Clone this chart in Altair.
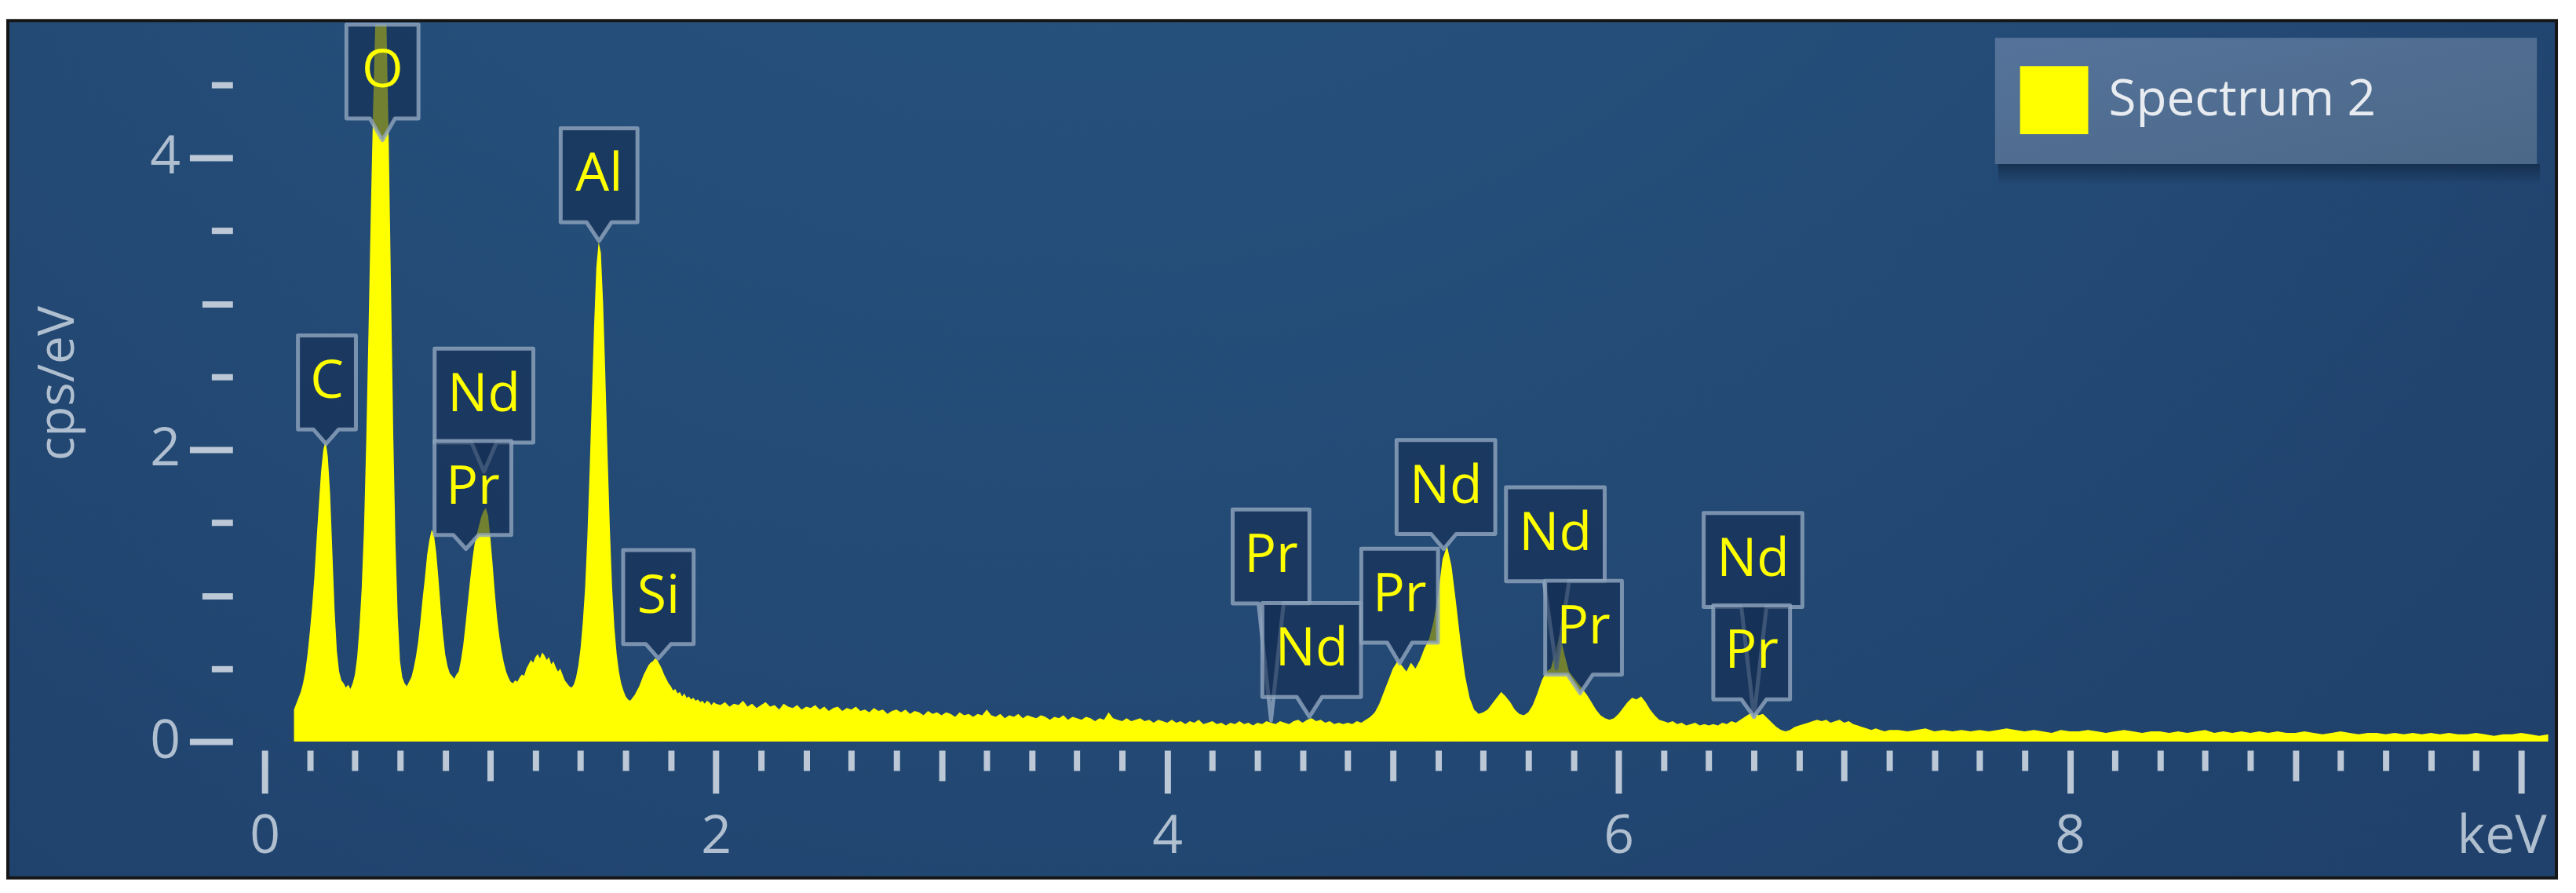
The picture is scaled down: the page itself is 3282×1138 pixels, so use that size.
import altair as alt
import pandas as pd

# ---------------- data ----------------
SERIES_NAME = "Spectrum 2"

# spectrum segments: first channel (keV), channel width (keV), cps/eV values
SEG_A_START, SEG_A_STEP = 0.13, 0.01
SEG_A = [
    0.22, 0.26, 0.30, 0.34, 0.40, 0.48, 0.60, 0.75, 0.92, 1.12,
    1.38, 1.62, 1.85, 2.00, 2.06, 1.95, 1.70, 1.30, 0.90, 0.62,
    0.48, 0.42, 0.40, 0.37, 0.39, 0.36, 0.40, 0.46, 0.58, 0.78,
    1.05, 1.45, 2.05, 2.80, 3.60, 4.30, 4.90, 5.30, 5.50, 5.60,
    5.40, 4.90, 4.10, 3.10, 2.10, 1.35, 0.85, 0.55, 0.44, 0.40,
    0.38, 0.41, 0.44, 0.50, 0.58, 0.68, 0.82, 0.98, 1.12, 1.28,
    1.38, 1.45, 1.42, 1.30, 1.12, 0.92, 0.74, 0.60, 0.52, 0.47,
    0.45, 0.43, 0.46, 0.48, 0.56, 0.66, 0.80, 0.95, 1.10, 1.24,
    1.35, 1.42, 1.48, 1.54, 1.58, 1.60, 1.55, 1.40, 1.22, 1.02,
    0.85, 0.72, 0.62, 0.54, 0.48, 0.44, 0.41, 0.40, 0.42, 0.41,
    0.44, 0.46, 0.45, 0.50, 0.53, 0.56, 0.54, 0.58, 0.60, 0.57,
    0.61, 0.59, 0.56, 0.58, 0.53, 0.55, 0.51, 0.48, 0.50, 0.46,
    0.42, 0.40, 0.38, 0.37, 0.39, 0.44, 0.52, 0.64, 0.82, 1.05,
    1.40, 1.85, 2.35, 2.85, 3.25, 3.42, 3.35, 3.00, 2.50, 1.95,
    1.45, 1.05, 0.78, 0.60, 0.48, 0.40, 0.35, 0.31, 0.29, 0.28,
    0.30, 0.32, 0.35, 0.38, 0.42, 0.46, 0.49, 0.52, 0.54, 0.55,
    0.57, 0.56, 0.53, 0.50, 0.46, 0.43, 0.40, 0.38, 0.35, 0.36,
    0.33, 0.34, 0.31, 0.33, 0.30, 0.31, 0.29, 0.30, 0.28, 0.29,
    0.27, 0.28, 0.26, 0.28, 0.27, 0.25, 0.27, 0.26,
]

SEG_B_START, SEG_B_STEP = 2.02, 0.02
SEG_B = [
    0.25, 0.27, 0.24, 0.26, 0.25, 0.28, 0.24, 0.26, 0.23, 0.25,
    0.27, 0.24, 0.25, 0.22, 0.26, 0.24, 0.23, 0.25, 0.22, 0.24,
    0.23, 0.25, 0.22, 0.24, 0.21, 0.23, 0.24, 0.21, 0.23, 0.22,
    0.24, 0.21, 0.22, 0.20, 0.23, 0.21, 0.22, 0.19, 0.21, 0.22,
    0.20, 0.22, 0.19, 0.21, 0.20, 0.18, 0.21, 0.19, 0.20, 0.18,
    0.20, 0.19, 0.17, 0.20, 0.18, 0.19, 0.17, 0.19, 0.18, 0.22,
    0.18, 0.17, 0.19, 0.16, 0.18, 0.17, 0.19, 0.16, 0.18, 0.17,
    0.16, 0.18, 0.17, 0.15, 0.17, 0.16, 0.18, 0.15, 0.17, 0.16,
    0.15, 0.17, 0.16, 0.14, 0.16, 0.15, 0.20, 0.16, 0.15, 0.14,
    0.16, 0.14, 0.15, 0.16, 0.14, 0.15, 0.13, 0.15, 0.14, 0.13,
    0.15, 0.13, 0.14, 0.12, 0.14, 0.13, 0.15, 0.12, 0.13, 0.14,
    0.12, 0.13, 0.11, 0.13, 0.12, 0.14, 0.12, 0.13, 0.11, 0.13,
    0.12, 0.14, 0.13, 0.12, 0.14, 0.13, 0.12, 0.14, 0.15, 0.13,
    0.15, 0.16, 0.14, 0.15, 0.13, 0.14, 0.12, 0.13, 0.12, 0.13,
    0.12, 0.14, 0.13, 0.15, 0.17, 0.20, 0.26, 0.34, 0.42, 0.50,
    0.55, 0.52, 0.48, 0.54, 0.50, 0.56, 0.64, 0.70, 0.82, 1.00,
    1.25, 1.34, 1.20, 0.95, 0.68, 0.45, 0.30, 0.22, 0.19, 0.20,
    0.22, 0.26, 0.30, 0.34, 0.31, 0.27, 0.22, 0.19, 0.18, 0.20,
    0.25, 0.33, 0.42, 0.48, 0.50, 0.62, 0.74, 0.60, 0.48, 0.44,
    0.40, 0.36, 0.32, 0.27, 0.22, 0.18, 0.16, 0.15, 0.16, 0.19,
    0.23, 0.27, 0.30, 0.29, 0.31, 0.27, 0.22, 0.18, 0.15, 0.14,
    0.13, 0.14, 0.12, 0.13, 0.11, 0.12, 0.13, 0.11, 0.12, 0.11,
    0.12, 0.11, 0.13, 0.12, 0.14, 0.13, 0.15, 0.17, 0.19, 0.20,
    0.18, 0.19, 0.16, 0.13, 0.10, 0.08, 0.07, 0.08, 0.10, 0.11,
    0.12, 0.13, 0.14, 0.15, 0.14, 0.15, 0.13, 0.14, 0.15, 0.13,
    0.14, 0.12, 0.11, 0.10, 0.09, 0.08, 0.09, 0.08, 0.07, 0.08,
]

SEG_C_START, SEG_C_STEP = 7.24, 0.04
SEG_C = [
    0.08, 0.07, 0.08, 0.09, 0.07, 0.08, 0.07, 0.08, 0.07, 0.08,
    0.07, 0.08, 0.09, 0.08, 0.07, 0.08, 0.07, 0.06, 0.08, 0.07,
    0.07, 0.08, 0.07, 0.06, 0.07, 0.08, 0.07, 0.06, 0.07, 0.07,
    0.06, 0.07, 0.06, 0.07, 0.08, 0.06, 0.07, 0.06, 0.07, 0.06,
    0.07, 0.06, 0.07, 0.06, 0.06, 0.07, 0.06, 0.05, 0.06, 0.07,
    0.06, 0.05, 0.06, 0.06, 0.05, 0.06, 0.05, 0.06, 0.05, 0.06,
    0.05, 0.06, 0.05, 0.05, 0.06, 0.05, 0.04, 0.05, 0.05, 0.06,
    0.05, 0.04, 0.05,
]

# element callouts: text, box centre (keV, cps/eV), pointer tip (keV, cps/eV)
LABEL_TEXT = ["C", "O", "Nd", "Pr", "Al", "Si", "Pr", "Nd", "Pr", "Nd", "Nd", "Pr", "Nd", "Pr"]
LABEL_KEV = [0.276, 0.522, 0.972, 0.923, 1.482, 1.745, 4.46, 4.64, 5.03, 5.235, 5.72, 5.845, 6.596, 6.59]
LABEL_LEVEL = [2.46, 4.59, 2.37, 1.737, 3.88, 0.99, 1.268, 0.627, 1.0, 1.744, 1.42, 0.78, 1.244, 0.611]
TIP_KEV = [0.272, 0.522, 0.972, 0.892, 1.482, 1.745, 4.46, 4.63, 5.03, 5.225, 5.725, 5.83, 6.60, 6.60]
TIP_LEVEL = [2.04, 4.12, 1.85, 1.32, 3.43, 0.57, 0.145, 0.17, 0.535, 1.32, 0.50, 0.33, 0.17, 0.17]

X_TICKS = [0.0, 0.2, 0.4, 0.6, 0.8, 1.0, 1.2, 1.4, 1.6, 1.8,
           2.0, 2.2, 2.4, 2.6, 2.8, 3.0, 3.2, 3.4, 3.6, 3.8,
           4.0, 4.2, 4.4, 4.6, 4.8, 5.0, 5.2, 5.4, 5.6, 5.8,
           6.0, 6.2, 6.4, 6.6, 6.8, 7.0, 7.2, 7.4, 7.6, 7.8,
           8.0, 8.2, 8.4, 8.6, 8.8, 9.0, 9.2, 9.4, 9.6, 9.8, 10.0]
Y_TICKS = [0.0, 0.5, 1.0, 1.5, 2.0, 2.5, 3.0, 3.5, 4.0, 4.5]
X_DOMAIN = [0, 10.146]
Y_DOMAIN = [0, 4.912]

# ---------------- layout / style ----------------
W, H = 2924, 916
PX_X = W / (X_DOMAIN[1] - X_DOMAIN[0])
PX_Y = H / (Y_DOMAIN[1] - Y_DOMAIN[0])
FONT = "Open Sans"
TICK_COLOR = "#bcc8d6"
LABEL_COLOR = "#b0bfd0"
BOX_W = {"C": 74, "O": 92, "Nd": 126, "Pr": 98, "Al": 98, "Si": 90}
BOX_H = 120
PTR_HALF = 16

rows = []
for start, step, vals in [(SEG_A_START, SEG_A_STEP, SEG_A),
                          (SEG_B_START, SEG_B_STEP, SEG_B),
                          (SEG_C_START, SEG_C_STEP, SEG_C)]:
    for i, v in enumerate(vals):
        rows.append({"keV": round(start + i * step, 4), "cps": v, "series": SERIES_NAME})
spec_df = pd.DataFrame(rows)

poly = []
for i, (t, bx, by, tx, ty) in enumerate(zip(LABEL_TEXT, LABEL_KEV, LABEL_LEVEL, TIP_KEV, TIP_LEVEL)):
    hw = BOX_W[t] / 2 / PX_X
    hh = BOX_H / 2 / PX_Y
    ph = PTR_HALF / PX_X
    top, bot = by + hh, by - hh
    for x, y2 in [(bx - hw, bot), (tx - ph, bot), (tx, ty), (tx + ph, bot), (bx + hw, bot)]:
        poly.append({"id": i, "keV": x, "cps": top, "cps2": y2})
poly_df = pd.DataFrame(poly)
text_df = pd.DataFrame({"keV": LABEL_KEV, "cps": LABEL_LEVEL, "label": LABEL_TEXT})

xs = alt.Scale(domain=X_DOMAIN, nice=False, zero=False)
ys = alt.Scale(domain=Y_DOMAIN, nice=False, zero=False)

even = "abs(datum.value/2 - round(datum.value/2)) < 0.01"
whole = "abs(datum.value - round(datum.value)) < 0.01"

x_axis = alt.Axis(
    values=X_TICKS, title=None, grid=False, domain=False, offset=11, zindex=1,
    tickSize={"expr": f"{even} ? 55 : ({whole} ? 39 : 26)"},
    tickColor=TICK_COLOR, tickWidth=8,
    labelExpr=f"datum.value > 9.9 ? 'keV' : ({even} ? format(datum.value, 'd') : '')",
    labelOffset={"condition": {"test": "datum.value > 9.9", "value": -25}, "value": 0},
    labelFont=FONT, labelFontSize=68, labelColor=LABEL_COLOR, labelPadding=22,
    labelFlush=False, labelOverlap=False, labelBound=False,
)
y_axis = alt.Axis(
    values=Y_TICKS, title="cps/eV", grid=False, domain=False, offset=41, zindex=1,
    tickSize={"expr": f"{even} ? 55 : ({whole} ? 39 : 27)"},
    tickColor=TICK_COLOR, tickWidth=8,
    labelExpr=f"{even} ? format(datum.value, 'd') : ''",
    labelFont=FONT, labelFontSize=68, labelColor=LABEL_COLOR, labelPadding=12,
    labelOverlap=False, labelBound=False,
    titleFont=FONT, titleFontSize=64, titleColor=LABEL_COLOR, titleFontWeight="normal",
    titlePadding=84,
)

one = pd.DataFrame({"k": [0]})

frame = alt.Chart(one).mark_rect(
    fill={"gradient": "radial", "x1": 0.42, "y1": 0.05, "r1": 0, "x2": 0.42, "y2": 0.05, "r2": 0.8,
          "stops": [{"offset": 0, "color": "#2a5986"}, {"offset": 1, "color": "#1f416b"}]},
    stroke="#161616", strokeWidth=4,
).encode(x=alt.value(-328), x2=alt.value(2927), y=alt.value(-5), y2=alt.value(1090))

legend_shadow = alt.Chart(one).mark_rect(
    fill={"gradient": "linear", "x1": 0, "y1": 0, "x2": 0, "y2": 1,
          "stops": [{"offset": 0, "color": "rgba(14,32,58,0.6)"},
                    {"offset": 1, "color": "rgba(14,32,58,0)"}]},
).encode(x=alt.value(2214), x2=alt.value(2906), y=alt.value(178), y2=alt.value(204))

legend_box = alt.Chart(one).mark_rect(
    fill={"gradient": "linear", "x1": 0, "y1": 0, "x2": 1, "y2": 1,
          "stops": [{"offset": 0, "color": "#55739a"}, {"offset": 1, "color": "#4b6888"}]},
).encode(x=alt.value(2210), x2=alt.value(2902), y=alt.value(17), y2=alt.value(178))

area = alt.Chart(spec_df).mark_area(clip=True, opacity=1, interpolate="linear").encode(
    x=alt.X("keV:Q", scale=xs, axis=x_axis),
    y=alt.Y("cps:Q", scale=ys, axis=y_axis, stack=None),
    color=alt.Color("series:N", scale=alt.Scale(domain=[SERIES_NAME], range=["#ffff00"]),
                    legend=alt.Legend(orient="none", legendX=2242, legendY=53, title=None,
                                      symbolType="square", symbolSize=7569, symbolStrokeWidth=0,
                                      symbolOpacity=1, labelFont=FONT, labelFontSize=64,
                                      labelColor="#e8ecf1", labelOffset=26, labelLimit=900,
                                      padding=0)),
)

callouts = alt.Chart(poly_df).mark_area(
    fill="#142d52", fillOpacity=0.6, stroke="#91a6bf", strokeOpacity=0.8,
    strokeWidth=5, strokeJoin="round",
).encode(
    x=alt.X("keV:Q", scale=xs),
    y=alt.Y("cps:Q", scale=ys, stack=None),
    y2="cps2:Q",
    detail="id:N",
)

texts = alt.Chart(text_df).mark_text(
    color="#ffff00", font=FONT, fontSize=68, align="center", baseline="middle",
).encode(
    x=alt.X("keV:Q", scale=xs),
    y=alt.Y("cps:Q", scale=ys),
    text="label:N",
)

chart = alt.layer(frame, legend_shadow, legend_box, area, callouts, texts).properties(
    width=W, height=H,
    autosize=alt.AutoSizeParams(type="none"),
    padding={"left": 330, "top": 22, "right": 20, "bottom": 184},
    background="white",
).configure_view(strokeOpacity=0)

chart.save("out.html", embed_options={"renderer": "svg", "actions": False})
